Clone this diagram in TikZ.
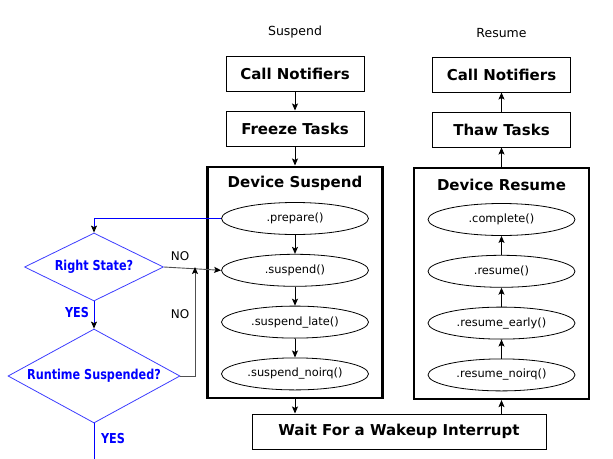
\documentclass[tikz,border=0pt]{standalone}
\usepackage{fontspec}
\setmainfont{DejaVu Sans}
\newfontfamily\condsans[FakeStretch=0.82]{DejaVu Sans}
\usepackage{tikz}
\usetikzlibrary{shapes.geometric, arrows.meta, positioning}
\definecolor{flowblue}{HTML}{0000FF}
\definecolor{diablue}{HTML}{3C3CFF}
\definecolor{linegray}{HTML}{505050}

\begin{document}
\begin{tikzpicture}[
    x=1pt, y=-1pt,
    node distance=19pt,
    phasename/.style={font=\fontsize{12.5}{15}\selectfont},
    stepbox/.style={rectangle, draw, line width=1pt, minimum width=138pt, minimum height=35pt, inner sep=0pt, font=\fontsize{15}{18}\selectfont\bfseries},
    phase/.style={rectangle, draw, line width=2.6pt, minimum width=175pt, minimum height=231pt, inner sep=0pt},
    phasetitle/.style={inner sep=0pt, font=\fontsize{15}{18}\selectfont\bfseries},
    callback/.style={ellipse, draw, line width=0.8pt, minimum width=147pt, minimum height=32pt, inner sep=0pt, font=\fontsize{11.4}{14}\selectfont},
    check/.style={diamond, draw=diablue, line width=0.8pt, aspect=2, inner sep=0pt, text=flowblue, font=\condsans\fontsize{13.7}{16}\selectfont\bfseries},
    answer/.style={font=\fontsize{12}{14}\selectfont},
    yesans/.style={text=flowblue, font=\condsans\fontsize{13.7}{16}\selectfont\bfseries},
    arrow/.style={line width=0.9pt, -{Stealth[length=7pt, width=6pt, inset=1.5pt]}},
    bluearrow/.style={line width=0.9pt, draw=flowblue, -{Stealth[length=7pt, width=6pt, inset=1.5pt, black]}},
    grayarrow/.style={line width=0.9pt, draw=linegray, -{Stealth[length=7pt, width=6pt, inset=1.5pt, black]}},
    flowline/.style={line width=0.9pt, draw=flowblue},
]
\useasboundingbox (0,0) rectangle (613,458);

% Suspend side
\node[phasename] (suspname) at (295,32) {Suspend};
\node[stepbox] (snotify) at (295,73.5) {Call Notifiers};
\node[stepbox, below=of snotify] (freeze) {Freeze Tasks};
\node[phase, below=of freeze] (dsus) {};
\node[phasetitle] (dsustitle) at ([yshift=-18pt]dsus.north) {Device Suspend};
\node[callback] (prep) at ([yshift=-53pt]dsus.north) {.prepare()};
\node[callback, below=of prep] (susp) {.suspend()};
\node[callback, below=of susp] (slate) {.suspend\_late()};
\node[callback, below=of slate] (snoirq) {.suspend\_noirq()};

% Resume side
\node[phasename] (resname) at (501.5,33) {Resume};
\node[stepbox] (rnotify) at (501.5,74.5) {Call Notifiers};
\node[stepbox, below=of rnotify] (thaw) {Thaw Tasks};
\node[phase, below=of thaw] (dres) {};
\node[phasetitle] (drestitle) at ([yshift=-18pt]dres.north) {Device Resume};
\node[callback] (compl) at ([yshift=-53pt]dres.north) {.complete()};
\node[callback, below=of compl] (resm) {.resume()};
\node[callback, below=of resm] (rearly) {.resume\_early()};
\node[callback, below=of rearly] (rnoirq) {.resume\_noirq()};

% Wakeup
\node[stepbox, minimum width=294pt] (wait) at (399,431.5) {Wait For a Wakeup Interrupt};

% Checks
\node[check, minimum width=139pt, minimum height=68pt] (rstate) at (94,267) {Right State?};
\node[check, minimum width=172pt, minimum height=94pt] (rtsusp) at (94,376) {Runtime Suspended?};
\coordinate (nojoin) at (195,267);
\coordinate (yesend) at (94,460);

% Arrows
\draw[arrow] (snotify) -- (freeze);
\draw[arrow] (freeze) -- (dsus);
\draw[arrow] (prep) -- (susp);
\draw[arrow] (susp) -- (slate);
\draw[arrow] (slate) -- (snoirq);
\draw[arrow] (dsus.south) -- (dsus.south |- wait.north);
\draw[arrow] (dres.south |- wait.north) -- (dres.south);
\draw[arrow] (rnoirq) -- (rearly);
\draw[arrow] (rearly) -- (resm);
\draw[arrow] (resm) -- (compl);
\draw[arrow] (dres) -- (thaw);
\draw[arrow] (thaw) -- (rnotify);

\draw[bluearrow] (prep.west) -| (rstate.north);
\draw[bluearrow] (rstate.south) -- (rtsusp.north);
\draw[flowline] (rtsusp.south) -- (yesend);
\draw[grayarrow] (rstate.east) -- (susp.west);
\draw[grayarrow] (rtsusp.east) -| (nojoin);

% Labels
\node[answer] (no1) at (180,256) {NO};
\node[answer] (no2) at (180,314) {NO};
\node[yesans] (yes1) at (77,313) {YES};
\node[yesans] (yes2) at (113,439) {YES};

\end{tikzpicture}
\end{document}
